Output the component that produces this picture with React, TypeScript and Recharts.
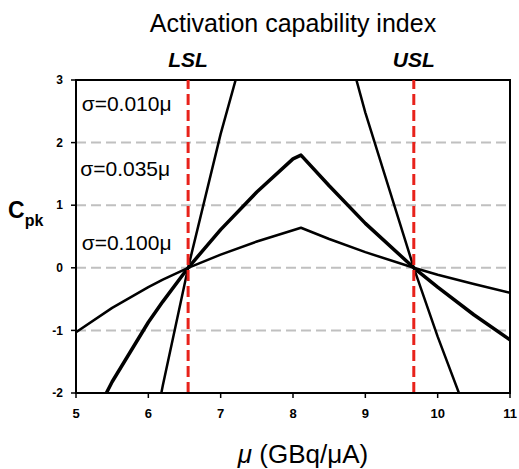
import React from "react";
import {
  LineChart,
  Line,
  XAxis,
  YAxis,
  CartesianGrid,
  ReferenceLine,
  ReferenceDot,
  ReferenceArea,
} from "recharts";

const FONT = "'Liberation Sans', Arial, Helvetica, sans-serif";

// mean activation (GBq/uA)
const MU = [5, 5.5, 6, 6.2, 6.55, 7, 7.5, 8, 8.11, 8.5, 9, 9.67, 10, 10.5, 11];
// Cpk values for each sigma
const CPK_010 = [-10.3, -6.36, -3.06, -1.88, 0, 2.14, 4.22, 6.04, 6.41, 4.59, 2.48, 0, -1.1, -2.63, -4.03];
const CPK_035 = [-2.95, -1.82, -0.87, -0.54, 0, 0.61, 1.21, 1.74, 1.8, 1.31, 0.71, 0, -0.31, -0.75, -1.15];
const CPK_100 = [-1.03, -0.64, -0.31, -0.19, 0, 0.21, 0.42, 0.6, 0.64, 0.46, 0.25, 0, -0.11, -0.26, -0.4];

const X_TICKS = [5, 6, 7, 8, 9, 10, 11];
const Y_TICKS = [-2, -1, 0, 1, 2, 3];
const LSL = 6.55;
const USL = 9.67;

const SERIES_LABELS = [
  { text: "σ=0.010μ", mu: 5.7, cpk: 2.63 },
  { text: "σ=0.035μ", mu: 5.68, cpk: 1.59 },
  { text: "σ=0.100μ", mu: 5.7, cpk: 0.41 },
];

const data = MU.map((mu, i) => ({
  mu,
  s010: CPK_010[i],
  s035: CPK_035[i],
  s100: CPK_100[i],
}));

export default function App() {
  return (
    <div
      style={{
        position: "absolute",
        left: 0,
        top: 0,
        width: 519,
        height: 469,
        background: "#fff",
        fontFamily: FONT,
        overflow: "hidden",
      }}
    >
      <LineChart
        width={519}
        height={469}
        data={data}
        margin={{ top: 80, right: 9, bottom: 46, left: 0 }}
        style={{ fontFamily: FONT }}
      >
        <CartesianGrid
          horizontal
          vertical={false}
          stroke="#c0c0c0"
          strokeWidth={2}
          strokeDasharray="10 5"
        />
        <XAxis
          type="number"
          dataKey="mu"
          domain={[5, 11]}
          ticks={X_TICKS}
          allowDataOverflow
          height={30}
          tickSize={5}
          tickMargin={11}
          axisLine={{ stroke: "#000", strokeWidth: 2 }}
          tickLine={{ stroke: "#000", strokeWidth: 1.5 }}
          tick={{ fill: "#000", fontSize: 13, fontWeight: "bold", fontFamily: FONT }}
        />
        <YAxis
          type="number"
          domain={[-2, 3]}
          ticks={Y_TICKS}
          allowDataOverflow
          width={76}
          tickSize={5}
          tickMargin={8}
          axisLine={{ stroke: "#000", strokeWidth: 2 }}
          tickLine={{ stroke: "#000", strokeWidth: 1.5 }}
          tick={{ fill: "#000", fontSize: 12, fontWeight: "bold", fontFamily: FONT }}
        />
        <Line
          dataKey="s100"
          stroke="#000"
          strokeWidth={2.5}
          dot={false}
          strokeLinejoin="round"
          isAnimationActive={false}
        />
        <Line
          dataKey="s035"
          stroke="#000"
          strokeWidth={3.5}
          dot={false}
          strokeLinejoin="round"
          isAnimationActive={false}
        />
        <Line
          dataKey="s010"
          stroke="#000"
          strokeWidth={2.5}
          dot={false}
          strokeLinejoin="round"
          isAnimationActive={false}
        />
        <ReferenceLine
          x={LSL}
          stroke="#e8221b"
          strokeWidth={3}
          strokeDasharray="11 5"
          label={{
            value: "LSL",
            position: "top",
            offset: 13,
            fill: "#000",
            fontSize: 21,
            fontWeight: "bold",
            fontStyle: "italic",
            fontFamily: FONT,
          }}
        />
        <ReferenceLine
          x={USL}
          stroke="#e8221b"
          strokeWidth={3}
          strokeDasharray="11 5"
          label={{
            value: "USL",
            position: "top",
            offset: 13,
            fill: "#000",
            fontSize: 21,
            fontWeight: "bold",
            fontStyle: "italic",
            fontFamily: FONT,
          }}
        />
        <ReferenceArea
          x1={5}
          x2={11}
          y1={-2}
          y2={3}
          fill="none"
          fillOpacity={0}
          stroke="#000"
          strokeWidth={2}
        />
        {SERIES_LABELS.map((s) => (
          <ReferenceDot
            key={s.text}
            x={s.mu}
            y={s.cpk}
            r={0}
            stroke="none"
            fill="none"
            label={{
              value: s.text,
              position: "center",
              fill: "#000",
              fontSize: 21,
              fontFamily: FONT,
            }}
          />
        ))}
        <text x={293} y={32} textAnchor="middle" fontSize={25} fill="#000" fontFamily={FONT}>
          Activation capability index
        </text>
        <text x={8} y={218} fontSize={23} fontWeight="bold" fill="#000" fontFamily={FONT}>
          C
          <tspan fontSize={16} dy={8}>
            pk
          </tspan>
        </text>
        <text x={303} y={463} textAnchor="middle" fontSize={26} fill="#000" fontFamily={FONT}>
          <tspan fontStyle="italic">μ</tspan> (GBq/μA)
        </text>
      </LineChart>
    </div>
  );
}
